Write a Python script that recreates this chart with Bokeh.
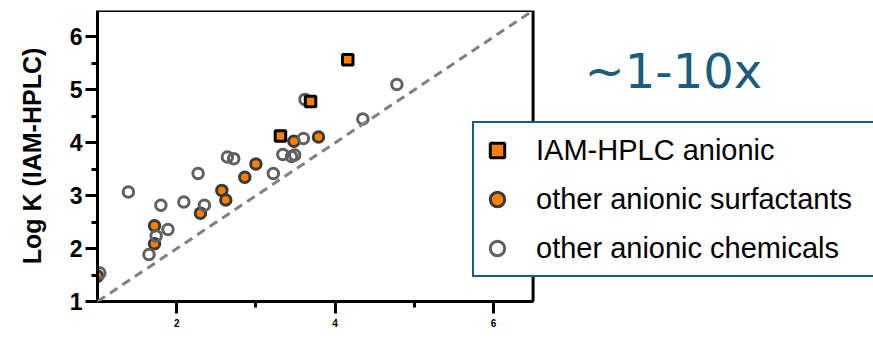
from bokeh.plotting import figure
from bokeh.models import (Range1d, FixedTicker, Legend, LegendItem, Label, Slope,
                          BoxAnnotation)
from bokeh.embed import file_html
from bokeh.resources import INLINE

# ---- data ----
iam_x = [3.31, 3.69, 4.16]
iam_y = [4.13, 4.78, 5.57]

surf_x = [1.00, 1.72, 1.72, 2.30, 2.57, 2.62, 2.86, 3.00, 3.48, 3.79]
surf_y = [1.48, 2.43, 2.09, 2.67, 3.10, 2.92, 3.35, 3.60, 4.03, 4.11]

chem_x = [1.03, 1.39, 1.65, 1.74, 1.80, 1.89, 2.09, 2.27, 2.35, 2.64, 2.72,
          3.22, 3.34, 3.45, 3.49, 3.60, 3.62, 4.35, 4.78]
chem_y = [1.54, 3.07, 1.89, 2.24, 2.82, 2.36, 2.88, 3.42, 2.82, 3.73, 3.70,
          3.42, 3.78, 3.74, 3.77, 4.08, 4.82, 4.45, 5.10]

x_major = [2, 4, 6]
x_minor = [3, 5]
y_major = [1, 2, 3, 4, 5, 6]
y_minor = [1.5, 2.5, 3.5, 4.5, 5.5]
axis_lo, axis_hi = 1, 6.5

legend_labels = ["IAM-HPLC anionic", "other anionic surfactants", "other anionic chemicals"]
y_label = "Log K (IAM-HPLC)"
note_text = "~1-10x"

ORANGE = "#FF8000"
TEAL = "#1b5c7c"

W, H = 873, 338
LEFT, TOP, BOTTOM = 97, 10, 37
PX_PER_X = 79.2  # horizontal scale of the reference; frame runs to the right edge

p = figure(width=W, height=H, output_backend="svg", toolbar_location=None,
           x_range=Range1d(axis_lo, axis_lo + (W - LEFT) / PX_PER_X),
           y_range=Range1d(axis_lo, axis_hi),
           min_border_left=LEFT, min_border_right=0, min_border_top=TOP,
           min_border_bottom=BOTTOM)

p.xgrid.visible = False
p.ygrid.visible = False
p.outline_line_color = None

for ax in (p.xaxis[0], p.yaxis[0]):
    ax.axis_line_width = 3
    ax.axis_line_color = "black"
    ax.major_tick_line_width = 3
    ax.minor_tick_line_width = 3
    ax.major_tick_line_color = "black"
    ax.minor_tick_line_color = "black"
    ax.major_tick_in = 0
    ax.minor_tick_in = 0
    ax.major_tick_out = 12
    ax.minor_tick_out = 6
    ax.major_label_text_font = "Liberation Sans"
    ax.major_label_text_font_style = "bold"
    ax.major_label_text_color = "black"
    ax.bounds = (axis_lo, axis_hi)

p.xaxis.ticker = FixedTicker(ticks=x_major, minor_ticks=x_minor)
p.yaxis.ticker = FixedTicker(ticks=y_major, minor_ticks=y_minor)
p.xaxis.major_label_text_font_size = "10px"
p.xaxis.major_label_standoff = 5
p.yaxis.major_label_text_font_size = "23px"
p.yaxis.major_label_standoff = 3

p.yaxis.axis_label = y_label
p.yaxis.axis_label_text_font = "Liberation Sans"
p.yaxis.axis_label_text_font_style = "bold"
p.yaxis.axis_label_text_font_size = "25px"
p.yaxis.axis_label_text_color = "black"
p.yaxis.axis_label_standoff = 21

# plot box (top and right borders)
p.add_layout(BoxAnnotation(left=axis_lo, right=axis_hi, bottom=axis_lo, top=axis_hi,
                           fill_alpha=0, line_color="black", line_alpha=1.0,
                           line_width=3))

p.add_layout(Slope(gradient=1, y_intercept=0, line_color="#808080",
                   line_width=3, line_dash="9 6"))

r_surf = p.scatter(surf_x, surf_y, marker="circle", size=10.5, fill_color=ORANGE,
                   line_color="#3a3a3a", line_width=3)
r_chem = p.scatter(chem_x, chem_y, marker="circle", size=10.5, fill_color=None,
                   line_color="#606060", line_width=3)
r_iam = p.scatter(iam_x, iam_y, marker="square", size=10.5, fill_color=ORANGE,
                  line_color="black", line_width=3)

legend = Legend(items=[LegendItem(label=legend_labels[0], renderers=[r_iam]),
                       LegendItem(label=legend_labels[1], renderers=[r_surf]),
                       LegendItem(label=legend_labels[2], renderers=[r_chem])],
                location=(375, 24), orientation="vertical",
                glyph_width=36, glyph_height=44, label_height=44,
                label_width=380, label_standoff=21, spacing=5, padding=5, margin=0,
                label_text_font="Liberation Sans", label_text_font_size="29px",
                label_text_color="black",
                border_line_color=TEAL, border_line_width=2, border_line_alpha=1.0,
                background_fill_color="white", background_fill_alpha=1.0)
p.add_layout(legend, "center")

p.add_layout(Label(x=7.15, y=5.35, text=note_text, text_font="DejaVu Sans",
                   text_font_size="48px", text_color=TEAL,
                   text_align="left", text_baseline="alphabetic"))

open("out.html", "w").write(file_html(p, INLINE))
